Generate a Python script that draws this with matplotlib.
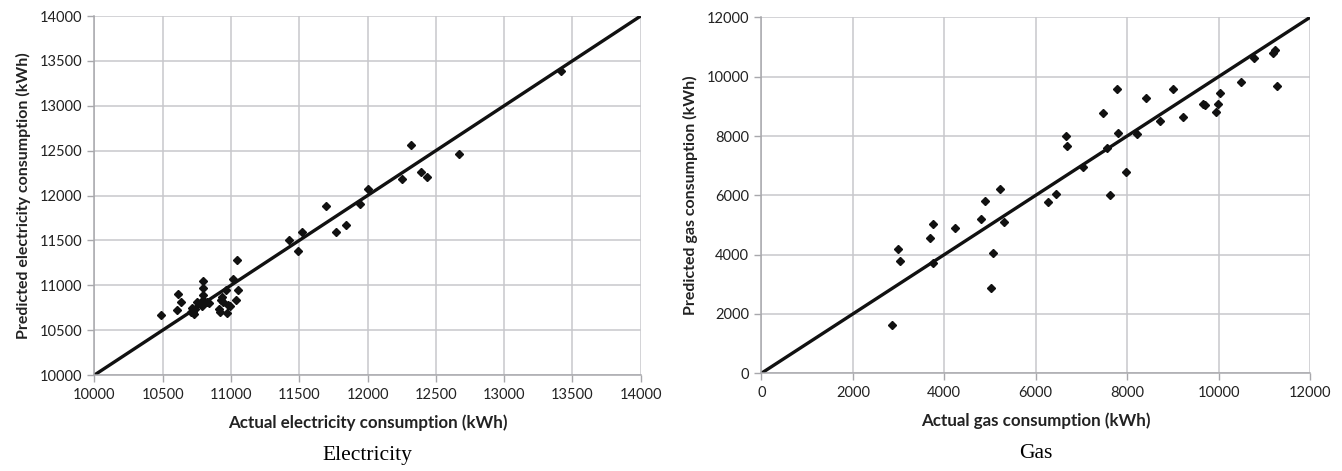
import numpy as np
import matplotlib.pyplot as plt

# electricity (kWh): actual vs predicted
elec_actual = [10485, 10611, 10602, 10633, 10712, 10723, 10736, 10704, 10728,
               10753, 10797, 10797, 10797, 10792, 10785, 10821, 10840, 10914,
               10919, 10926, 10936, 10943, 10963, 10968, 10980, 10992, 11012,
               11041, 11036, 11053, 11422, 11490, 11519, 11695, 11766, 11841,
               11944, 12002, 12249, 12317, 12393, 12437, 12666, 13420]
elec_pred = [10670, 10906, 10722, 10811, 10744, 10707, 10733, 10700, 10677,
             10818, 11049, 10968, 10893, 10837, 10770, 10818, 10800, 10733,
             10707, 10837, 10874, 10818, 10949, 10695, 10781, 10770, 11071,
             11283, 10837, 10949, 11507, 11387, 11588, 11878, 11588, 11674,
             11908, 12076, 12184, 12567, 12258, 12202, 12467, 13385]

# gas (kWh): actual vs predicted
gas_actual = [2862, 2987, 3037, 3693, 3759, 3746, 4234, 4803, 4897, 5212, 5317,
              5072, 5021, 6262, 6444, 6656, 6691, 7041, 7478, 7566, 7625, 7772,
              7807, 7975, 8209, 8413, 8719, 9010, 9216, 9653, 9703, 10032, 9982,
              9938, 10485, 10782, 11185, 11242, 11285]
gas_pred = [1616, 4179, 3795, 4550, 5033, 3707, 4888, 5191, 5819, 6213, 5090,
            4065, 2864, 5775, 6034, 8011, 7664, 6965, 8787, 7586, 6011, 9576,
            8112, 6797, 8058, 9293, 8507, 9596, 8652, 9090, 9046, 9461, 9080,
            8810, 9812, 10642, 10810, 10901, 9687]

elec_ticks = np.arange(10000, 14001, 500)
gas_ticks = np.arange(0, 12001, 2000)

plt.rcParams['font.family'] = ['Lato', 'DejaVu Sans']

fig = plt.figure(figsize=(13.42, 4.71), dpi=100)
ax1 = fig.add_axes([0.0704, 0.2038, 0.407, 0.7622])
ax2 = fig.add_axes([0.5674, 0.2076, 0.4087, 0.7554])

def style(ax, ticks, xlabel, ylabel, caption):
    ax.set_xlim(ticks[0], ticks[-1])
    ax.set_ylim(ticks[0], ticks[-1])
    ax.set_xticks(ticks)
    ax.set_yticks(ticks)
    ax.grid(True, color='#c8c8cc', linewidth=1.1)
    ax.set_axisbelow(True)
    for s in ['top', 'right']:
        ax.spines[s].set_visible(False)
    for s in ['left', 'bottom']:
        ax.spines[s].set_color('#a8a8ac')
        ax.spines[s].set_linewidth(1.1)
    ax.tick_params(direction='out', length=5, width=1, color='#a8a8ac',
                   labelsize=10.5, labelcolor='#222222', pad=4)
    ax.set_xlabel(xlabel, fontsize=12.2, fontweight='bold', color='#222222', labelpad=9)
    ax.set_ylabel(ylabel, fontsize=11.5, fontweight='bold', color='#222222', labelpad=6)
    ax.text(0.5, -0.225, caption, transform=ax.transAxes, ha='center', va='center',
            fontsize=15.5, family='Liberation Serif')
    ax.plot([ticks[0], ticks[-1]], [ticks[0], ticks[-1]], color='#111111',
            linewidth=2.4, solid_capstyle='butt', zorder=2)

style(ax1, elec_ticks, 'Actual electricity consumption (kWh)',
      'Predicted electricity consumption (kWh)', 'Electricity')
ax1.plot(elec_actual, elec_pred, 'D', color='#111111', markersize=4.5, zorder=3,
         clip_on=False)

style(ax2, gas_ticks, 'Actual gas consumption (kWh)',
      'Predicted gas consumption (kWh)', 'Gas')
ax2.plot(gas_actual, gas_pred, 'D', color='#111111', markersize=4.5, zorder=3,
         clip_on=False)

fig.savefig('out.png', dpi=100)
